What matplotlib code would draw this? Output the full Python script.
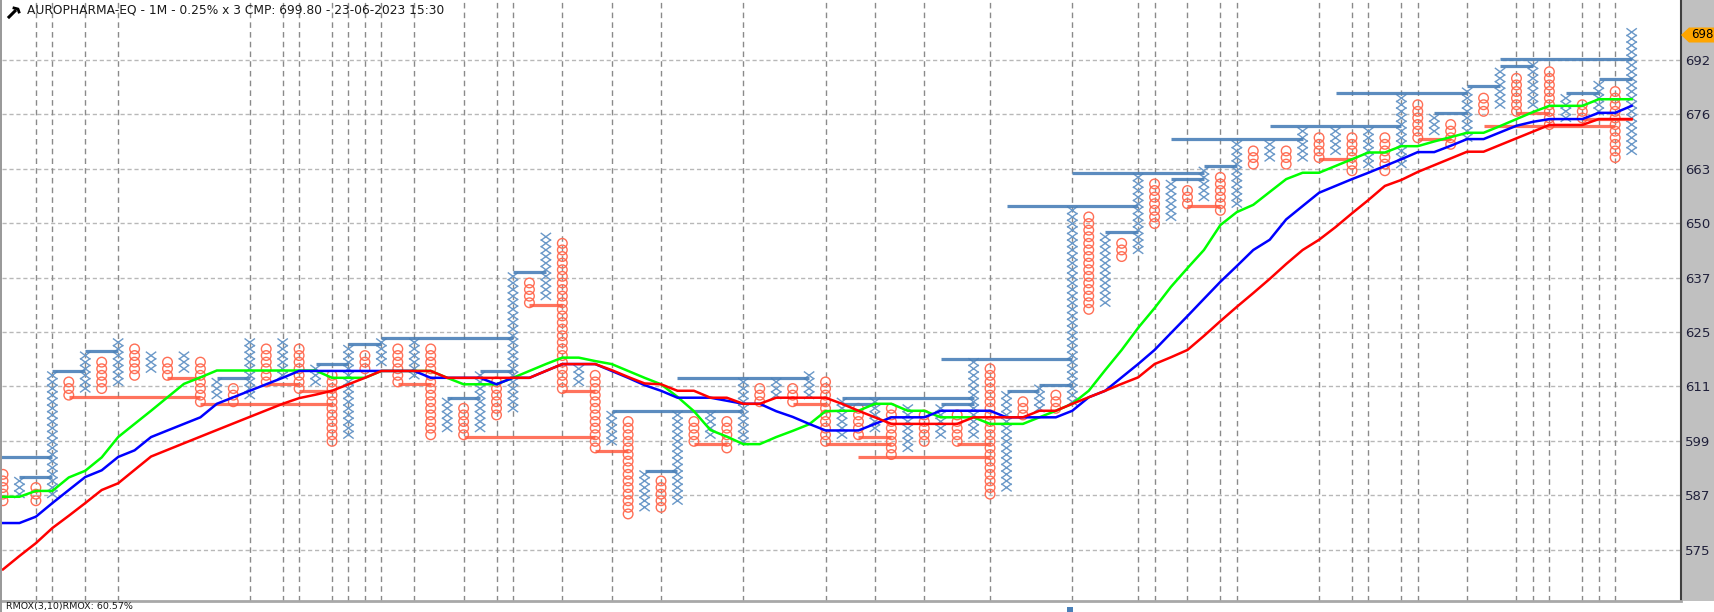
import numpy as np
import matplotlib
matplotlib.use("Agg")
import matplotlib.pyplot as plt
from matplotlib.path import Path
from matplotlib.patches import Polygon, Rectangle
from matplotlib.lines import Line2D

TITLE = "AUROPHARMA-EQ - 1M - 0.25% x 3 CMP: 699.80 - 23-06-2023 15:30"
BOX_PCT = 0.25
BASE = 575.57          # price of box 0
LAST_TAG = "698"
FOOTER = "RMOX(3,10)RMOX: 60.57%"

col_type = ("OXOXOXOXOXOXOXOXOXOXOXOXOXOXOXOXOXOXOXOXOXOXOXOXOX"
            "OXOXOXOXOXOXOXOXOXOXOXOXOXOXOXOXOXOXOXOXOXOXOXOXOX")
col_low = [585.7, 587.2, 585.7, 587.2, 609.6, 611.1, 611.1, 612.6, 614.2, 615.7,
           614.2, 615.7, 608.1, 609.6, 608.1, 609.6, 612.6, 614.2, 611.1, 612.6,
           599.0, 600.5, 615.7, 617.3, 612.6, 614.2, 600.5, 602.0, 600.5, 602.0,
           605.0, 606.6, 631.3, 632.9, 611.1, 612.6, 597.5, 599.0, 582.8, 584.3,
           584.3, 585.7, 599.0, 600.5, 597.5, 599.0, 608.1, 609.6, 608.1, 609.6,
           599.0, 600.5, 600.5, 602.0, 596.1, 597.5, 599.0, 600.5, 599.0, 600.5,
           587.2, 588.7, 605.0, 606.6, 606.6, 608.1, 629.7, 631.3, 642.4, 644.0,
           650.5, 652.1, 655.4, 657.0, 653.7, 655.4, 665.3, 666.9, 665.3, 666.9,
           666.9, 668.6, 663.6, 665.3, 663.6, 665.3, 671.9, 673.6, 670.3, 671.9,
           678.7, 680.4, 678.7, 680.4, 675.3, 677.0, 677.0, 678.7, 666.9, 668.6]
col_high = [591.6, 590.1, 588.7, 614.2, 612.6, 618.8, 617.3, 621.9, 620.3, 618.8,
            617.3, 618.8, 617.3, 612.6, 611.1, 621.9, 620.3, 621.9, 620.3, 615.7,
            614.2, 620.3, 618.8, 621.9, 620.3, 621.9, 620.3, 608.1, 606.6, 614.2,
            612.6, 637.6, 636.0, 647.2, 645.6, 615.7, 614.2, 605.0, 603.5, 591.6,
            590.1, 605.0, 603.5, 605.0, 603.5, 612.6, 611.1, 612.6, 611.1, 614.2,
            612.6, 608.1, 606.6, 608.1, 606.6, 606.6, 605.0, 606.6, 605.0, 617.3,
            615.7, 609.6, 608.1, 611.1, 609.6, 653.7, 652.1, 647.2, 645.6, 661.9,
            660.3, 660.3, 658.7, 663.6, 661.9, 670.3, 668.6, 670.3, 668.6, 673.6,
            671.9, 673.6, 671.9, 673.6, 671.9, 682.1, 680.4, 677.0, 675.3, 683.8,
            682.1, 688.9, 687.2, 690.7, 688.9, 682.1, 680.4, 685.5, 683.8, 699.3]

green_ma = [586.6, 586.6, 587.9, 587.9, 590.9, 592.4, 595.4, 600.0, 603.0, 606.0,
            609.1, 612.2, 613.7, 615.3, 615.3, 615.3, 615.3, 615.3, 615.3, 615.3,
            613.6, 613.6, 613.6, 615.2, 615.2, 615.2, 615.2, 613.6, 612.1, 612.1,
            612.1, 613.6, 615.2, 616.8, 618.3, 618.3, 617.5, 616.8, 615.2, 613.6,
            612.1, 609.2, 605.9, 601.6, 600.1, 598.4, 598.4, 600.0, 601.4, 602.9,
            605.9, 606.0, 606.0, 607.6, 607.6, 606.0, 606.0, 604.5, 604.5, 604.5,
            603.0, 603.0, 603.0, 604.5, 606.0, 607.6, 610.6, 615.4, 620.1, 625.3,
            630.0, 635.1, 639.6, 644.0, 650.1, 653.3, 655.1, 658.3, 661.5, 663.1,
            663.1, 664.8, 666.5, 668.2, 668.2, 669.8, 669.8, 671.0, 672.1, 673.2,
            673.2, 674.9, 676.7, 678.5, 680.1, 680.1, 680.1, 681.8, 681.8, 681.8]
blue_ma = [580.8, 580.8, 582.2, 585.2, 588.1, 591.0, 592.5, 595.5, 597.0, 600.0,
           601.5, 603.0, 604.5, 607.6, 609.1, 610.6, 612.1, 613.6, 615.2, 615.2,
           615.2, 615.2, 615.2, 615.2, 615.2, 615.2, 613.6, 613.6, 613.6, 613.6,
           612.1, 613.6, 613.6, 615.2, 616.8, 616.8, 616.8, 615.2, 613.6, 611.9,
           610.6, 609.0, 609.0, 609.0, 608.3, 607.6, 607.6, 605.9, 604.6, 603.0,
           601.5, 601.5, 601.5, 603.0, 604.5, 604.5, 604.5, 606.0, 606.0, 606.0,
           606.0, 604.5, 604.5, 604.5, 604.5, 606.0, 609.1, 610.6, 613.7, 616.8,
           620.1, 624.1, 628.1, 632.2, 636.3, 640.1, 644.0, 646.5, 651.5, 654.8,
           658.1, 659.8, 661.5, 663.1, 664.8, 666.5, 668.3, 668.3, 669.9, 671.6,
           671.6, 673.3, 675.0, 676.0, 676.7, 676.7, 676.7, 678.3, 678.3, 680.1]
red_ma = [570.7, 573.6, 576.4, 579.7, 582.4, 585.2, 588.1, 589.6, 592.6, 595.6,
          597.1, 598.6, 600.1, 601.6, 603.1, 604.6, 606.1, 607.6, 608.9, 609.7,
          610.6, 612.1, 613.6, 615.2, 615.2, 615.2, 615.2, 613.6, 613.6, 613.6,
          613.6, 613.6, 613.6, 615.2, 616.8, 616.8, 616.8, 615.4, 613.8, 612.3,
          612.1, 610.6, 610.6, 609.0, 609.0, 607.6, 607.6, 609.0, 609.0, 609.0,
          609.0, 607.6, 606.0, 604.5, 603.0, 603.0, 603.0, 603.0, 603.0, 604.5,
          604.5, 604.5, 604.5, 606.0, 606.0, 607.6, 609.1, 610.6, 612.2, 613.7,
          616.8, 618.4, 620.1, 623.4, 626.9, 630.3, 633.6, 637.0, 640.6, 644.0,
          646.5, 649.6, 653.0, 656.3, 659.8, 661.3, 663.3, 665.0, 666.7, 668.4,
          668.4, 670.1, 671.8, 673.5, 675.2, 675.2, 675.2, 676.7, 676.7, 676.7]

# breakout lines: level price, from column, to column
up_level = [595.5, 590.9, 615.3, 619.9, 613.6, 616.8, 621.4, 623.0, 609.0, 615.2,
            638.7, 606.0, 592.4, 613.5, 609.0, 607.6, 607.6, 618.1, 610.6, 611.9,
            654.9, 663.1, 648.5, 661.5, 664.8, 671.6, 674.9, 683.5, 678.2, 685.2,
            690.4, 692.2, 683.5, 687.0]
up_from = [-1, 1, 3, 5, 13, 19, 21, 23, 27, 29,
           31, 37, 39, 41, 51, 51, 57, 57, 61, 63,
           61, 65, 67, 71, 73, 71, 77, 81, 87, 89,
           91, 91, 95, 97]
up_to = [3, 3, 5, 7, 15, 21, 23, 31, 29, 31,
         33, 45, 41, 49, 59, 53, 59, 65, 63, 65,
         69, 73, 69, 73, 75, 79, 85, 89, 89, 91,
         93, 99, 97, 99]
dn_level = [609.1, 613.6, 607.6, 612.1, 610.5, 612.1, 600.0, 630.7, 610.5, 596.9,
            598.4, 607.6, 598.4, 600.0, 595.4, 598.4, 654.9, 666.6, 671.6, 678.3,
            675.0, 676.7]
dn_from = [4, 10, 12, 16, 18, 24, 28, 32, 34, 36,
           42, 48, 50, 52, 52, 58, 72, 80, 86, 92,
           90, 96]
dn_to = [12, 12, 20, 18, 20, 26, 36, 34, 36, 38,
         44, 50, 54, 54, 60, 60, 74, 82, 88, 94,
         98, 99]

date_cols = [2, 3, 5, 7, 15, 17, 18, 20, 21, 22, 23, 25, 28, 30, 31, 34, 37, 40,
             45, 50, 53, 56, 60, 65, 69, 70, 72, 74, 75, 80, 82, 83, 85, 86, 89,
             92, 93, 94, 96, 97, 98]
ytick_labels = [575, 587, 599, 611, 625, 637, 650, 663, 676, 692]
GRID_STEP_BOXES = 8.241

# ---------------------------------------------------------------
W, H = 1715, 612
fig = plt.figure(figsize=(W / 100, H / 100), dpi=100)
fig.patch.set_facecolor("white")
L, R, T, B = 2, 1681, 0, 601
ax = fig.add_axes([L / W, 1 - B / H, (R - L) / W, (B - T) / H])

lnb = np.log(1 + BOX_PCT / 100)


def box(p):
    return np.log(np.asarray(p, dtype=float) / BASE) / lnb


ax.set_xlim(-0.06, 102.0)
ax.set_ylim(-8.19, 82.87)

# grid
ypos = box(ytick_labels[0]) + np.arange(len(ytick_labels)) * GRID_STEP_BOXES
for y in ypos:
    ax.axhline(y, color="#b8b8b8", lw=1.0, dashes=(3, 2), zorder=0)
for c in date_cols:
    ax.axvline(c, color="#8a8a8a", lw=1.0, dashes=(4, 3), zorder=0)

# X and O symbols
xs_x, ys_x, xs_o, ys_o = [], [], [], []
for i, t in enumerate(col_type):
    lo = int(round(box(col_low[i])))
    hi = int(round(box(col_high[i])))
    for k in range(lo, hi + 1):
        if t == "X":
            xs_x.append(i); ys_x.append(k)
        else:
            xs_o.append(i); ys_o.append(k)

xmark = Path([(-1, -0.74), (1, 0.74), (-1, 0.74), (1, -0.74)],
             [Path.MOVETO, Path.LINETO, Path.MOVETO, Path.LINETO])
ax.scatter(xs_x, ys_x, marker=xmark, s=56, facecolors="none",
           edgecolors="#6a98c8", linewidths=1.0, zorder=2)
ax.scatter(xs_o, ys_o, marker="o", s=48, facecolors="none",
           edgecolors="#ff6e55", linewidths=1.0, zorder=2)

# breakout lines
for lv, a, b in zip(up_level, up_from, up_to):
    ax.plot([a, b], [box(lv)] * 2, color="#4a80b8", lw=2.3, alpha=0.9,
            solid_capstyle="butt", zorder=3)
for lv, a, b in zip(dn_level, dn_from, dn_to):
    ax.plot([a, b], [box(lv)] * 2, color="#ff5a40", lw=2.3, alpha=0.85,
            solid_capstyle="butt", zorder=3)

cols = np.arange(len(col_type))
ax.plot(cols, box(green_ma), color="#00ff00", lw=1.8, zorder=4)
ax.plot(cols, box(blue_ma), color="#0000ff", lw=1.8, zorder=5)
ax.plot(cols, box(red_ma), color="#ff0000", lw=1.8, zorder=6)

# axes styling
ax.set_xticks([])
ax.set_yticks(ypos)
ax.set_yticklabels([str(v) for v in ytick_labels])
ax.yaxis.tick_right()
ax.tick_params(axis="y", length=0, pad=3, labelsize=9.5, labelcolor="#20203a")
for s in ["top", "left"]:
    ax.spines[s].set_visible(False)
ax.spines["right"].set_color("#404040")
ax.spines["right"].set_linewidth(1.5)
ax.spines["bottom"].set_color("#a8a8a8")
ax.spines["bottom"].set_linewidth(2)

# right gray panel
fig.patches.append(Rectangle((R / W, 1 - B / H), 1 - R / W, B / H,
                             transform=fig.transFigure, facecolor="#c0c0c0",
                             edgecolor="none", zorder=-5))
# left gray border
fig.patches.append(Rectangle((0, 0), 2 / W, 1, transform=fig.transFigure,
                             facecolor="#9a9a9a", edgecolor="none", zorder=5))


def fx(px):
    return px / W


def fy(py):
    return 1 - py / H


# last price tag
tag_y = 35
tag = Polygon([(fx(1681), fy(tag_y)), (fx(1689), fy(tag_y - 7.5)), (fx(1715), fy(tag_y - 7.5)),
               (fx(1715), fy(tag_y + 7.5)), (fx(1689), fy(tag_y + 7.5))],
              closed=True, transform=fig.transFigure, facecolor="#ffa500",
              edgecolor="none", zorder=6)
fig.patches.append(tag)
fig.text(fx(1702), fy(tag_y), LAST_TAG, fontsize=8.5, ha="center", va="center",
         color="black", zorder=7)

# title with wrench icon
fig.add_artist(Line2D([fx(9), fx(15)], [fy(17), fy(11)], color="black", lw=2.2,
                      transform=fig.transFigure))
fig.add_artist(Line2D([fx(14), fx(18), fx(19)], [fy(8), fy(9), fy(12)], color="black",
                      lw=2.0, transform=fig.transFigure))
fig.text(fx(27), fy(10), TITLE, fontsize=8.8, ha="left", va="center", color="#1a1a1a")

# footer strip (partially visible in the original)
fig.text(fx(6), fy(611.5), FOOTER, fontsize=6.8, ha="left", va="bottom", color="#1a1a1a")
fig.patches.append(Rectangle((fx(1067), fy(612)), 6 / W, 5 / H, transform=fig.transFigure,
                             facecolor="#4a80b8", edgecolor="none"))

fig.savefig("out.png", dpi=100)
